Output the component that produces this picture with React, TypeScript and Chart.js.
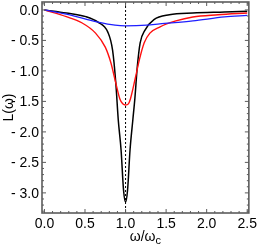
import { useEffect, useRef } from 'react';
import { Chart, registerables } from 'chart.js';
Chart.register(...registerables);

const xMin = -0.03;
const xMax = 2.52;
const yMin = -3.33;
const yMax = 0.13;

const xMajorTicks = [0, 0.5, 1, 1.5, 2, 2.5];
const xTickLabels = ['0.0', '0.5', '1.0', '1.5', '2.0', '2.5'];
const xMinorTicks = [0.1, 0.2, 0.3, 0.4, 0.6, 0.7, 0.8, 0.9, 1.1, 1.2, 1.3, 1.4, 1.6, 1.7, 1.8, 1.9, 2.1, 2.2, 2.3, 2.4];
const yMajorTicks = [0, -0.5, -1, -1.5, -2, -2.5, -3];
const yTickLabels = ['0.0', '- 0.5', '- 1.0', '- 1.5', '- 2.0', '- 2.5', '- 3.0'];
const yMinorTicks = [0.1, -0.1, -0.2, -0.3, -0.4, -0.6, -0.7, -0.8, -0.9, -1.1, -1.2, -1.3, -1.4, -1.6, -1.7, -1.8, -1.9, -2.1, -2.2, -2.3, -2.4, -2.6, -2.7, -2.8, -2.9, -3.1, -3.2, -3.3];

const blackX = [0, 0.27, 0.51, 0.66, 0.78, 0.84, 0.88, 0.91, 0.945, 0.975, 1.0, 1.025, 1.055, 1.09, 1.115, 1.145, 1.18, 1.24, 1.35, 1.54, 1.83, 2.22, 2.5];
const blackY = [0, -0.05, -0.11, -0.2, -0.36, -0.66, -1.2, -1.8, -2.3, -2.95, -3.15, -2.95, -2.3, -1.8, -1.45, -0.93, -0.54, -0.33, -0.16, -0.08, -0.05, -0.033, -0.02];

const redX = [0, 0.27, 0.46, 0.63, 0.75, 0.82, 0.88, 0.93, 0.965, 1.0, 1.035, 1.06, 1.12, 1.17, 1.23, 1.3, 1.42, 1.62, 1.83, 2.14, 2.5];
const redY = [0, -0.11, -0.21, -0.38, -0.61, -0.87, -1.2, -1.46, -1.54, -1.56, -1.54, -1.46, -1.12, -0.82, -0.54, -0.38, -0.28, -0.18, -0.115, -0.08, -0.05];

const blueX = [0, 0.27, 0.51, 0.66, 0.87, 1.0, 1.26, 1.42, 1.83, 2.22, 2.5];
const blueY = [0, -0.07, -0.15, -0.2, -0.25, -0.26, -0.25, -0.23, -0.18, -0.115, -0.09];

const vlineX = [1, 1];
const vlineY = [yMax, yMin];

const toPts = (xs: number[], ys: number[]) => xs.map((x, i) => ({ x, y: ys[i] }));

const FONT = '"Liberation Sans", Arial, sans-serif';

const framePlugin = {
  id: 'frame',
  afterDatasetsDraw(chart: any) {
    const { ctx, chartArea, scales } = chart;
    const { left, right, top, bottom } = chartArea;
    const xs = scales.x;
    const ys = scales.y;
    ctx.save();
    ctx.strokeStyle = '#5c5c5c';
    ctx.lineWidth = 1;
    const tick = (vals: number[], len: number) => {
      ctx.beginPath();
      for (const v of vals) {
        const px = xs.getPixelForValue(v);
        ctx.moveTo(px, bottom);
        ctx.lineTo(px, bottom - len);
        ctx.moveTo(px, top);
        ctx.lineTo(px, top + len);
      }
      ctx.stroke();
    };
    const tickY = (vals: number[], len: number) => {
      ctx.beginPath();
      for (const v of vals) {
        const py = ys.getPixelForValue(v);
        if (py < top || py > bottom) continue;
        ctx.moveTo(left, py);
        ctx.lineTo(left + len, py);
        ctx.moveTo(right, py);
        ctx.lineTo(right - len, py);
      }
      ctx.stroke();
    };
    tick(xMajorTicks, 4);
    tick(xMinorTicks, 2);
    tickY(yMajorTicks, 4);
    tickY(yMinorTicks, 2);
    ctx.lineWidth = 1.6;
    ctx.strokeRect(left, top, right - left, bottom - top);

    // y tick labels
    ctx.fillStyle = '#000';
    ctx.font = `14px ${FONT}`;
    ctx.textAlign = 'right';
    ctx.textBaseline = 'middle';
    yMajorTicks.forEach((v, i) => {
      ctx.fillText(yTickLabels[i], left - 3, ys.getPixelForValue(v) + 1);
    });

    // axis titles
    ctx.font = `14px ${FONT}`;
    const main = 'ω/ω';
    const mw = ctx.measureText(main).width;
    ctx.font = `11px ${FONT}`;
    const sw = ctx.measureText('c').width;
    const cx = (left + right) / 2;
    const startX = cx - (mw + sw) / 2;
    ctx.textBaseline = 'alphabetic';
    ctx.textAlign = 'left';
    ctx.font = `14px ${FONT}`;
    ctx.fillText(main, startX, 241);
    ctx.font = `11px ${FONT}`;
    ctx.fillText('c', startX + mw, 244);

    ctx.save();
    ctx.translate(13, (top + bottom) / 2);
    ctx.rotate(-Math.PI / 2);
    ctx.textAlign = 'center';
    ctx.font = `14px ${FONT}`;
    ctx.fillText('L(ω)', 0, 0);
    ctx.restore();
    ctx.restore();
  },
};

export default function App() {
  const ref = useRef<HTMLCanvasElement | null>(null);
  useEffect(() => {
    if (!ref.current) return;
    const font = { family: FONT, size: 14 };
    const chart = new Chart(ref.current, {
      type: 'line',
      data: {
        datasets: [
          {
            data: toPts(vlineX, vlineY),
            borderColor: '#000',
            borderWidth: 1,
            borderDash: [2, 2],
            pointRadius: 0,
            fill: false,
          },
          {
            data: toPts(blueX, blueY),
            borderColor: '#1f1fff',
            borderWidth: 1.3,
            pointRadius: 0,
            cubicInterpolationMode: 'monotone',
            fill: false,
          },
          {
            data: toPts(redX, redY),
            borderColor: '#ff1010',
            borderWidth: 1.4,
            pointRadius: 0,
            cubicInterpolationMode: 'monotone',
            fill: false,
          },
          {
            data: toPts(blackX, blackY),
            borderColor: '#000',
            borderWidth: 1.5,
            pointRadius: 0,
            cubicInterpolationMode: 'monotone',
            fill: false,
          },
        ],
      },
      options: {
        animation: false,
        responsive: false,
        devicePixelRatio: 1,
        layout: { padding: { top: 2, right: 5, left: 0, bottom: 0 } },
        plugins: { legend: { display: false }, tooltip: { enabled: false } },
        scales: {
          x: {
            type: 'linear',
            min: xMin,
            max: xMax,
            afterBuildTicks: (s: any) => {
              s.ticks = xMajorTicks.map((v) => ({ value: v }));
            },
            afterFit: (s: any) => {
              s.height = 34;
            },
            ticks: {
              callback: (_v: any, i: number) => xTickLabels[i],
              font,
              color: '#000',
              padding: 3,
              maxRotation: 0,
              autoSkip: false,
            },
            grid: { display: false, drawTicks: false },
            border: { display: false },
          },
          y: {
            type: 'linear',
            min: yMin,
            max: yMax,
            afterBuildTicks: (s: any) => {
              s.ticks = yMajorTicks.map((v) => ({ value: v }));
            },
            afterFit: (s: any) => {
              s.width = 42;
            },
            ticks: { display: false },
            grid: { display: false, drawTicks: false },
            border: { display: false },
          },
        },
      },
      plugins: [framePlugin],
    } as any);
    return () => chart.destroy();
  }, []);
  return (
    <div style={{ position: 'fixed', left: 0, top: 0, width: 260, height: 247, background: '#fff' }}>
      <canvas ref={ref} width={260} height={247} style={{ width: 260, height: 247 }} />
    </div>
  );
}
